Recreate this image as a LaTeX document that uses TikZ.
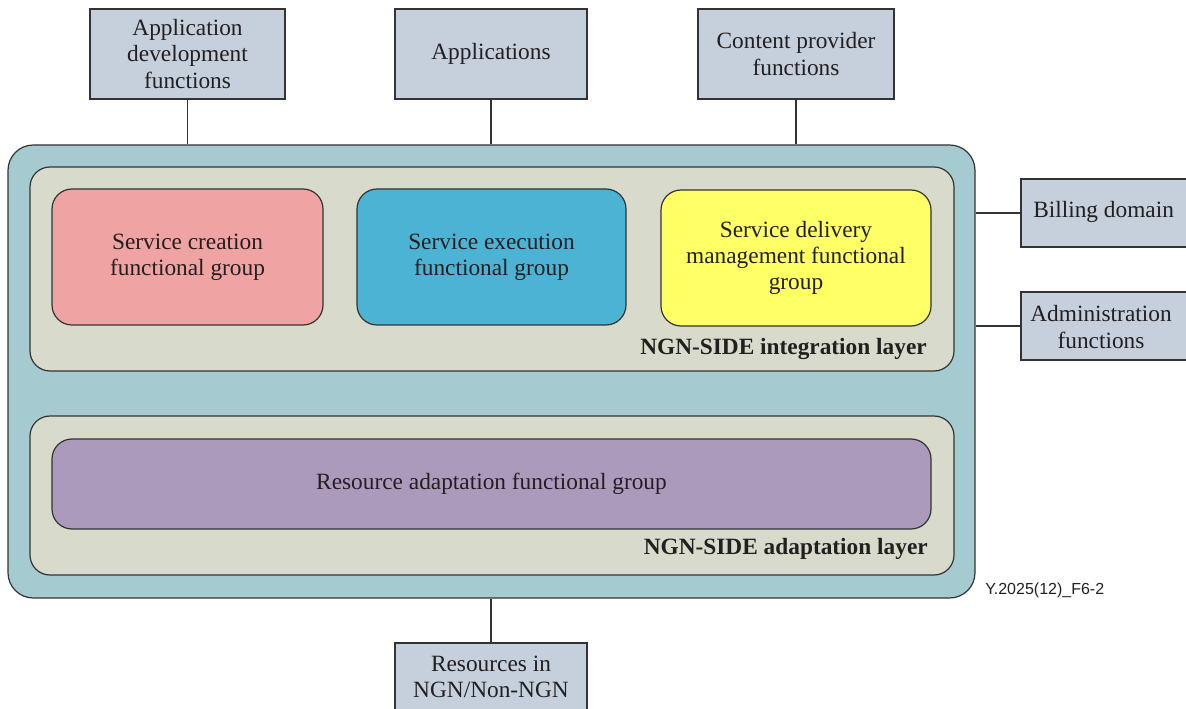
\documentclass[tikz,border=0pt]{standalone}
\usepackage{fontspec}
\setmainfont{Liberation Serif}
\newfontfamily\labelsans{Liberation Sans}
\definecolor{outerc}{HTML}{A5CBD1}
\definecolor{layerc}{HTML}{D8DBCB}
\definecolor{extc}{HTML}{C5D0DC}
\definecolor{creac}{HTML}{F0A3A3}
\definecolor{execc}{HTML}{4CB3D4}
\definecolor{delic}{HTML}{FFFF66}
\definecolor{resc}{HTML}{AC9ABD}
\definecolor{linec}{HTML}{333333}
\definecolor{txtc}{HTML}{231F20}
\begin{document}
\begin{tikzpicture}[x=0.75pt,y=-0.75pt,
  every node/.style={text=txtc, font=\fontsize{17.5pt}{19.8pt}\selectfont},
  extbox/.style={draw=linec, line width=0.9pt, fill=extc, align=center, inner sep=0pt},
  rbox/.style={draw=linec, line width=0.9pt, rounded corners=15pt, inner sep=0pt, align=center},
  conn/.style={draw=linec, line width=0.9pt},
  laylabel/.style={font=\fontsize{17.5pt}{19.8pt}\selectfont\bfseries, anchor=east, inner sep=0pt}]
\useasboundingbox (0,0) rectangle (1186,709);
% external boxes
\node[extbox, minimum width={195*0.75pt}, minimum height={90*0.75pt}] (appdev) at (187.5,54) {Application\\development\\functions};
\node[extbox, minimum width={192*0.75pt}, minimum height={90*0.75pt}] (apps) at (491,54) {Applications};
\node[extbox, minimum width={196*0.75pt}, minimum height={90*0.75pt}] (content) at (796,54) {Content provider\\functions};
% outer
\node[rbox, fill=outerc, rounded corners=19pt, minimum width={967*0.75pt}, minimum height={453*0.75pt}] (outer) at (491.5,371.5) {};
\node[rbox, fill=layerc, minimum width={924*0.75pt}, minimum height={204*0.75pt}] (integ) at (492,269) {};
\node[rbox, fill=creac, minimum width={271*0.75pt}, minimum height={136*0.75pt}] (crea) at (187.5,257) {Service creation\\functional group};
\node[rbox, fill=execc, minimum width={269*0.75pt}, minimum height={136*0.75pt}] (exec) at (491.5,257) {Service execution\\functional group};
\node[rbox, fill=delic, minimum width={270*0.75pt}, minimum height={136*0.75pt}] (deli) at (796,258) {Service delivery\\management functional\\group};
\node[laylabel] (intlab) at (927,349) {NGN-SIDE integration layer};
\node[rbox, fill=layerc, minimum width={924*0.75pt}, minimum height={159*0.75pt}] (adapt) at (492,495.5) {};
\node[rbox, fill=resc, minimum width={879*0.75pt}, minimum height={90*0.75pt}] (res) at (491.5,484) {Resource adaptation functional group};
\node[laylabel] (adlab) at (928,549) {NGN-SIDE adaptation layer};
% right boxes
\node[extbox, minimum width={170*0.75pt}, minimum height={68*0.75pt}] (bill) at (1106,213) {};
\node[anchor=west, inner sep=0pt] (billt) at (1033,212) {Billing domain};
\node[extbox, minimum width={170*0.75pt}, minimum height={68*0.75pt}] (admin) at (1106,326) {};
\node[align=center, inner sep=0pt] (admint) at (1101,327) {Administration\\functions};
% bottom
\node[extbox, minimum width={192*0.75pt}, minimum height={76*0.75pt}] (resng) at (491,681) {};
\node[align=center, inner sep=0pt] (resngt) at (491,677) {Resources in\\NGN/Non-NGN};
\node[font=\labelsans\fontsize{12pt}{14pt}\selectfont, anchor=west, inner sep=0pt] (fig) at (985,590) {Y.2025(12)\_F6-2};
% connectors
\draw[conn] (appdev.south) -- (appdev.south |- outer.north);
\draw[conn] (apps.south) -- (apps.south |- outer.north);
\draw[conn] (content.south) -- (content.south |- outer.north);
\draw[conn] (outer.east |- bill.west) -- (bill.west);
\draw[conn] (outer.east |- admin.west) -- (admin.west);
\draw[conn] (outer.south -| resng.north) -- (resng.north);
\end{tikzpicture}
\end{document}
